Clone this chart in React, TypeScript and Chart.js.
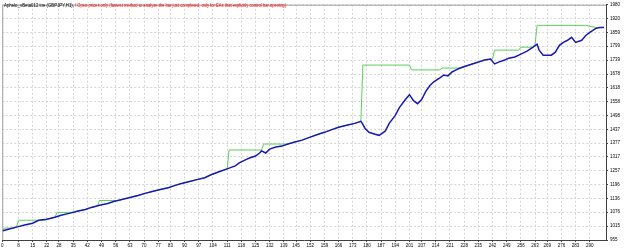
import React, { useEffect, useRef } from "react";
import { Chart, registerables } from "chart.js";

Chart.register(...registerables);

const xTickLabels = [0, 8, 15, 22, 28, 35, 42, 49, 56, 63, 70, 77, 83, 90, 97, 104, 111, 118, 125, 132, 139, 145, 152, 159, 166, 173, 180, 187, 194, 201, 207, 214, 221, 228, 235, 242, 249, 256, 263, 269, 276, 283, 290];
const yTickLabels = [955, 1015, 1076, 1136, 1196, 1257, 1317, 1377, 1437, 1498, 1558, 1618, 1678, 1739, 1799, 1859, 1920, 1980];

const balanceTrades = [0, 3, 7, 11, 15, 18, 22, 26, 29, 33, 37, 41, 44, 48, 52, 55, 59, 63, 67, 70, 74, 78, 82, 85, 88, 92, 96, 100, 103, 107, 111, 115, 117, 120, 122, 125, 127, 128, 130, 132, 135, 138, 141, 144, 148, 152, 156, 159, 163, 166, 170, 174, 177, 178, 179, 181, 184, 186, 189, 191, 194, 196, 199, 201, 203, 205, 207, 209, 211, 213, 216, 218, 220, 222, 224, 226, 229, 232, 235, 238, 241, 243, 245, 248, 250, 253, 256, 259, 262, 264, 265, 267, 271, 273, 275, 277, 279, 281, 283, 286, 288, 290, 293, 295, 297];
const balanceValues = [994, 1002, 1011, 1020, 1028, 1041, 1045, 1054, 1063, 1071, 1080, 1088, 1097, 1106, 1114, 1123, 1131, 1140, 1149, 1157, 1166, 1175, 1183, 1192, 1200, 1209, 1218, 1226, 1239, 1252, 1265, 1278, 1291, 1304, 1312, 1321, 1334, 1343, 1334, 1351, 1360, 1364, 1373, 1381, 1390, 1403, 1416, 1424, 1437, 1446, 1455, 1463, 1472, 1459, 1442, 1424, 1416, 1411, 1429, 1463, 1498, 1532, 1567, 1588, 1562, 1549, 1567, 1601, 1627, 1644, 1661, 1674, 1670, 1687, 1696, 1704, 1713, 1722, 1730, 1739, 1743, 1722, 1730, 1739, 1747, 1752, 1765, 1778, 1795, 1808, 1782, 1760, 1760, 1773, 1803, 1816, 1825, 1838, 1816, 1825, 1846, 1859, 1877, 1881, 1881];

const equityTrades = [0, 1, 6, 7, 8, 21, 22, 26, 27, 36, 37, 41, 44, 47, 48, 58, 59, 63, 67, 70, 74, 78, 82, 85, 88, 92, 96, 100, 103, 107, 111, 112, 128, 129, 141, 144, 148, 152, 156, 159, 163, 166, 170, 174, 177, 178, 201, 202, 216, 217, 226, 229, 232, 235, 238, 242, 243, 255, 256, 262, 263, 264, 288, 293, 297];
const equityValues = [994, 1007, 1007, 1011, 1041, 1041, 1045, 1054, 1075, 1075, 1080, 1088, 1097, 1103, 1127, 1127, 1131, 1140, 1149, 1157, 1166, 1175, 1183, 1192, 1200, 1209, 1218, 1226, 1239, 1252, 1265, 1347, 1347, 1373, 1373, 1381, 1390, 1403, 1416, 1424, 1437, 1446, 1455, 1463, 1472, 1717, 1717, 1696, 1696, 1704, 1704, 1713, 1722, 1730, 1739, 1743, 1782, 1782, 1795, 1795, 1808, 1890, 1890, 1881, 1881];

const titleName = "Aphelo_vBeta012 ine (GBPJPY,H1),";
const titleMode = "/ Open prices only (fastest method to analyse the bar just completed, only for EAs that explicitly control bar opening)";

const FONT = '"Liberation Sans", Arial, sans-serif';

export default function App() {
  const ref = useRef<HTMLCanvasElement | null>(null);

  useEffect(() => {
    document.body.style.margin = "0";
    const canvas = ref.current;
    if (!canvas) return;

    const framePlugin = {
      id: "frame",
      afterDraw(chart: any) {
        const { ctx, chartArea } = chart;
        ctx.save();
        ctx.strokeStyle = "#a0a0a0";
        ctx.lineWidth = 1;
        ctx.beginPath();
        ctx.moveTo(chartArea.left + 0.5, chartArea.bottom);
        ctx.lineTo(chartArea.left + 0.5, chartArea.top + 0.5);
        ctx.lineTo(chartArea.right, chartArea.top + 0.5);
        ctx.stroke();
        ctx.font = `5px ${FONT}`;
        ctx.textBaseline = "top";
        ctx.fillStyle = "#000000";
        ctx.fillText(titleName, 4, 3, 70);
        ctx.fillStyle = "#ff0000";
        ctx.fillText(titleMode, 75, 3, 211);
        ctx.restore();
      },
    };

    const chart = new Chart(canvas, {
      type: "line",
      data: {
        datasets: [
          {
            label: "Balance",
            data: balanceTrades.map((t, k) => ({ x: t, y: balanceValues[k] })),
            borderColor: "#1818b8",
            borderWidth: 1.5,
            pointRadius: 0,
            tension: 0,
            order: 0,
          },
          {
            label: "Equity",
            data: equityTrades.map((t, k) => ({ x: t, y: equityValues[k] })),
            borderColor: "#5ccf5c",
            borderWidth: 1,
            pointRadius: 0,
            tension: 0,
            order: 1,
          },
        ],
      },
      options: {
        animation: false,
        responsive: false,
        devicePixelRatio: 1,
        events: [],
        layout: { padding: { top: 2, left: 2, right: 0, bottom: 0 } },
        plugins: { legend: { display: false }, tooltip: { enabled: false }, title: { display: false } },
        scales: {
          x: {
            type: "linear",
            position: "bottom",
            min: 0,
            max: 298,
            afterBuildTicks: (s: any) => {
              s.ticks = xTickLabels.map((v) => ({ value: v }));
            },
            afterFit: (s: any) => {
              s.height = 11;
            },
            ticks: {
              autoSkip: false,
              maxRotation: 0,
              minRotation: 0,
              padding: 1,
              color: "#000000",
              font: { size: 4.5, family: FONT },
              callback: (v: any) => String(v),
            },
            grid: { color: "#d4d4d4", tickLength: 2, tickColor: "#404040" },
            border: { color: "#404040", width: 1, dash: [2, 2] },
          },
          y: {
            type: "linear",
            position: "right",
            min: 955,
            max: 1980,
            afterBuildTicks: (s: any) => {
              s.ticks = yTickLabels.map((v) => ({ value: v }));
            },
            afterFit: (s: any) => {
              s.width = 19;
            },
            ticks: {
              autoSkip: false,
              padding: 2,
              color: "#000000",
              font: { size: 4.5, family: FONT },
              callback: (v: any) => String(v),
            },
            grid: { color: "#d4d4d4", tickLength: 2, tickColor: "#404040" },
            border: { color: "#404040", width: 1, dash: [2, 2] },
          },
        },
      },
      plugins: [framePlugin],
    } as any);

    return () => chart.destroy();
  }, []);

  return (
    <div style={{ width: 625, height: 251, background: "#ffffff" }}>
      <canvas ref={ref} width={625} height={251} style={{ display: "block" }} />
    </div>
  );
}
